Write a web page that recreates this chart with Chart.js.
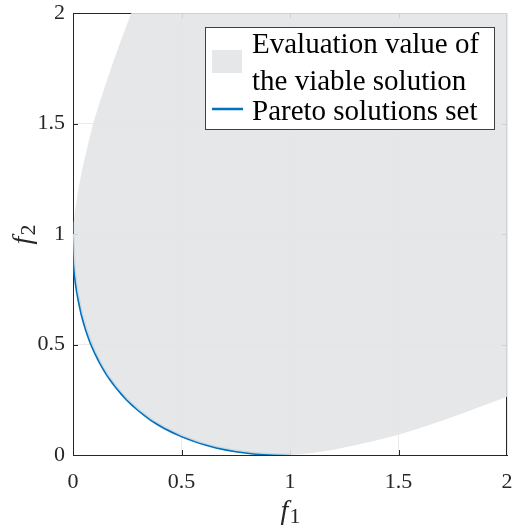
<!DOCTYPE html>
<html>
<head>
<meta charset="utf-8">
<script src="https://cdn.jsdelivr.net/npm/chart.js@4.4.0/dist/chart.umd.min.js"></script>
<style>
  html, body { margin: 0; padding: 0; background: #ffffff; }
  #wrap { width: 514px; height: 532px; position: relative; }
</style>
</head>
<body>
<div id="wrap"><canvas id="c" width="514" height="532"></canvas></div>
<script>
// Tick values on both objective axes
const xTicks = [0, 0.5, 1, 1.5, 2];
const yTicks = [0, 0.5, 1, 1.5, 2];

// Pareto front (f1, f2)
const paretoF1 = [0, 0.005, 0.01, 0.02, 0.04, 0.06, 0.08, 0.1, 0.13, 0.16, 0.2, 0.25, 0.3, 0.36, 0.42, 0.5, 0.58, 0.66, 0.75, 0.84, 0.92, 1];
const paretoF2 = [1, 0.864, 0.81, 0.737, 0.64, 0.57, 0.514, 0.468, 0.409, 0.36, 0.306, 0.25, 0.205, 0.16, 0.124, 0.086, 0.057, 0.035, 0.018, 0.007, 0.002, 0];

// Upper-left edge of the feasible objective region
const upperF1 = [0, 0.003, 0.0085, 0.024, 0.044, 0.068, 0.093, 0.124, 0.158, 0.193, 0.23, 0.269];
const upperF2 = [1, 1.05, 1.1, 1.2, 1.3, 1.4, 1.5, 1.6, 1.7, 1.8, 1.9, 2];

// Lower-right edge of the feasible objective region
const lowerF1 = [1, 1.05, 1.1, 1.2, 1.3, 1.4, 1.5, 1.6, 1.7, 1.8, 1.9, 2];
const lowerF2 = [0, 0.003, 0.0085, 0.024, 0.044, 0.067, 0.092, 0.122, 0.155, 0.19, 0.227, 0.264];

// Far corner of the region inside the view
const regionCorner = [2, 2];

const seriesLabels = ['Evaluation value of\nthe viable solution', 'Pareto solutions set'];

const FONT = "'Liberation Serif', 'Times New Roman', serif";
const AXIS_COLOR = '#262626';
const REGION_FILL = 'rgba(227,228,231,0.9)';
const PARETO_COLOR = '#0072BD';

const pts = (xs, ys) => xs.map((x, i) => ({ x: x, y: ys[i] }));

// Closed outline: upper edge up, across the corner, lower edge back down, Pareto front back to start
const regionOutline = []
  .concat(pts(upperF1, upperF2))
  .concat([{ x: regionCorner[0], y: regionCorner[1] }])
  .concat(pts(lowerF1, lowerF2).reverse())
  .concat(pts(paretoF1, paretoF2).reverse().slice(1));

const paretoPoints = pts(paretoF1, paretoF2);

// Inward ticks on all four sides plus the top and right box edges
const boxPlugin = {
  id: 'box',
  beforeDatasetsDraw(chart) {
    const { ctx, chartArea: a, scales } = chart;
    ctx.save();
    ctx.strokeStyle = AXIS_COLOR;
    ctx.lineWidth = 1;
    ctx.beginPath();
    ctx.moveTo(a.left, Math.round(a.top) + 0.5);
    ctx.lineTo(a.right, Math.round(a.top) + 0.5);
    ctx.moveTo(Math.round(a.right) - 0.5, a.top);
    ctx.lineTo(Math.round(a.right) - 0.5, a.bottom);
    const len = 5;
    xTicks.slice(1, -1).forEach(v => {
      const px = Math.round(scales.x.getPixelForValue(v)) + 0.5;
      ctx.moveTo(px, a.bottom); ctx.lineTo(px, a.bottom - len);
      ctx.moveTo(px, a.top); ctx.lineTo(px, a.top + len);
    });
    yTicks.slice(1, -1).forEach(v => {
      const py = Math.round(scales.y.getPixelForValue(v)) + 0.5;
      ctx.moveTo(a.left, py); ctx.lineTo(a.left + len, py);
      ctx.moveTo(a.right, py); ctx.lineTo(a.right - len, py);
    });
    ctx.stroke();
    ctx.restore();
  }
};

// Axis titles with italic f and a subscript index
function drawSubscripted(ctx, sub) {
  ctx.font = "italic 28px " + FONT;
  const wf = ctx.measureText('f').width;
  ctx.font = "22px " + FONT;
  const ws = ctx.measureText(sub).width;
  const total = wf + ws;
  ctx.textBaseline = 'alphabetic';
  ctx.textAlign = 'left';
  ctx.font = "italic 28px " + FONT;
  ctx.fillText('f', -total / 2, 0);
  ctx.font = "22px " + FONT;
  ctx.fillText(sub, -total / 2 + wf + 1, 4);
}

const titlePlugin = {
  id: 'axisTitles',
  afterDraw(chart) {
    const { ctx, chartArea: a } = chart;
    ctx.save();
    ctx.fillStyle = AXIS_COLOR;
    ctx.translate((a.left + a.right) / 2, 519);
    drawSubscripted(ctx, '1');
    ctx.restore();

    ctx.save();
    ctx.fillStyle = AXIS_COLOR;
    ctx.translate(31, (a.top + a.bottom) / 2 + 1);
    ctx.rotate(-Math.PI / 2);
    drawSubscripted(ctx, '2');
    ctx.restore();
  }
};

// Boxed legend in the upper right
const legendPlugin = {
  id: 'boxLegend',
  afterDraw(chart) {
    const { ctx } = chart;
    const x0 = 205, y0 = 27, w = 289, h = 102;
    ctx.save();
    ctx.fillStyle = '#ffffff';
    ctx.fillRect(x0, y0, w, h);
    ctx.strokeStyle = '#404040';
    ctx.lineWidth = 1;
    ctx.strokeRect(x0 + 0.5, y0 + 0.5, w, h);

    const ds = chart.data.datasets;
    // area swatch
    ctx.fillStyle = ds[0].backgroundColor;
    ctx.fillRect(212, 50, 30, 23);
    // line swatch
    ctx.strokeStyle = ds[1].borderColor;
    ctx.lineWidth = 2.5;
    ctx.beginPath();
    ctx.moveTo(212, 109);
    ctx.lineTo(243, 109);
    ctx.stroke();

    ctx.fillStyle = '#000000';
    ctx.font = "29px " + FONT;
    ctx.textAlign = 'left';
    ctx.textBaseline = 'alphabetic';
    const l0 = ds[0].label.split('\n');
    ctx.fillText(l0[0], 252, 53);
    ctx.fillText(l0[1], 252, 90);
    ctx.fillText(ds[1].label, 252, 120);
    ctx.restore();
  }
};

const tickFormat = v => String(v);

// Keep the plot rectangle fixed: no extra room for overhanging end labels
function zeroPadding(s) {
  s.paddingLeft = 0; s.paddingRight = 0; s.paddingTop = 0; s.paddingBottom = 0;
}

new Chart(document.getElementById('c'), {
  type: 'line',
  data: {
    datasets: [
      {
        label: seriesLabels[0],
        data: regionOutline,
        fill: 'shape',
        backgroundColor: REGION_FILL,
        borderWidth: 0,
        borderColor: 'rgba(0,0,0,0)',
        pointRadius: 0,
        tension: 0
      },
      {
        label: seriesLabels[1],
        data: paretoPoints,
        fill: false,
        borderColor: PARETO_COLOR,
        borderWidth: 3,
        pointRadius: 0,
        cubicInterpolationMode: 'monotone'
      }
    ]
  },
  options: {
    responsive: false,
    animation: false,
    devicePixelRatio: 1,
    layout: { padding: { top: 13, right: 7, left: 0, bottom: 0 } },
    plugins: {
      legend: { display: false },
      tooltip: { enabled: false },
      title: { display: false }
    },
    scales: {
      x: {
        type: 'linear',
        min: xTicks[0],
        max: xTicks[xTicks.length - 1],
        afterBuildTicks(s) { s.ticks = xTicks.map(v => ({ value: v })); },
        afterFit(s) { s.height = 77; zeroPadding(s); },
        ticks: { padding: 14, color: AXIS_COLOR, font: { family: FONT, size: 22 }, callback: tickFormat, maxRotation: 0 },
        grid: { color: '#ebebeb', lineWidth: 1, drawTicks: false },
        border: { color: AXIS_COLOR, width: 1 }
      },
      y: {
        type: 'linear',
        min: yTicks[0],
        max: yTicks[yTicks.length - 1],
        afterBuildTicks(s) { s.ticks = yTicks.map(v => ({ value: v })); },
        afterFit(s) { s.width = 73; zeroPadding(s); },
        ticks: { padding: 8, color: AXIS_COLOR, font: { family: FONT, size: 22 }, callback: tickFormat },
        grid: { color: '#ebebeb', lineWidth: 1, drawTicks: false },
        border: { color: AXIS_COLOR, width: 1 }
      }
    }
  },
  plugins: [boxPlugin, titlePlugin, legendPlugin]
});
</script>
</body>
</html>
